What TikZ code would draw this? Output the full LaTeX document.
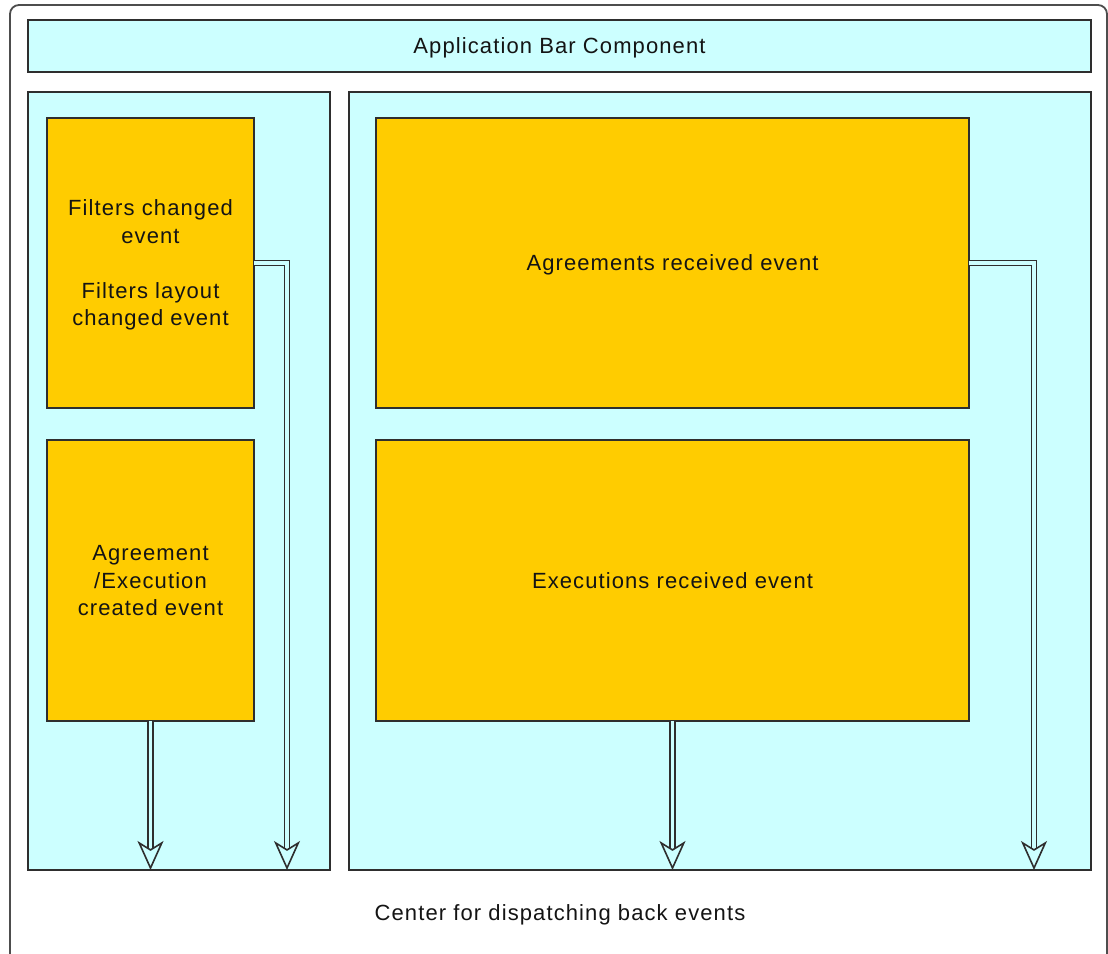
\documentclass[tikz,border=0pt]{standalone}
\usepackage{fontspec}
\setmainfont{Liberation Sans}[LetterSpace=5]
\usetikzlibrary{arrows.meta}
\definecolor{cyanbg}{HTML}{CCFFFF}
\definecolor{evorange}{HTML}{FFCC00}
\definecolor{linec}{HTML}{2E2E2E}
\definecolor{txt}{HTML}{141414}
\tikzset{
  box/.style={draw=linec, line width=1.5pt, inner sep=0pt, outer sep=0pt, anchor=north west,
    align=center, text=txt, text depth=0pt, font=\fontsize{22}{27.5}\selectfont},
  panel/.style={box, fill=cyanbg},
  evbox/.style={box, fill=evorange},
  shaft/.style={draw=linec, line width=1.7pt, double=cyanbg, double distance=3.2pt, shorten >=12pt},
  head/.style={cyanbg, line width=1.6pt,
    -{Stealth[linec, fill=cyanbg, length=29pt, width=26pt, inset=8pt]}},
}
\begin{document}
\begin{tikzpicture}[x=1pt, y=-1pt]
\useasboundingbox (0,0) rectangle (1108,953);
\begin{scope}
\clip (0,0) rectangle (1108,953);
\draw[draw=linec!85, line width=1.8pt, rounded corners=9pt, fill=white] (10,5) rectangle (1107,1010);
\end{scope}
% application bar
\node[panel, minimum width=1063pt, minimum height=52pt] (app) at (28,20) {Application Bar Component};
% panels
\node[panel, minimum width=302pt, minimum height=778pt] (lp) at (28,92) {};
\node[panel, minimum width=742pt, minimum height=778pt] (rp) at (349,92) {};
% event boxes
\node[evbox, minimum width=207pt, minimum height=290pt] (fc) at (47,118)
  {Filters changed\\event\\[27.5pt]Filters layout\\changed event};
\node[evbox, minimum width=207pt, minimum height=281pt] (ae) at (47,440)
  {Agreement\\/Execution\\created event};
\node[evbox, minimum width=593pt, minimum height=290pt] (ar) at (376,118)
  {Agreements received event};
\node[evbox, minimum width=593pt, minimum height=281pt] (er) at (376,440)
  {Executions received event};
% label of the dispatching centre
\node[text=txt, font=\fontsize{22}{27.5}\selectfont] (center) at (560,915) {Center for dispatching back events};
% arrow end points
\coordinate (e1) at (ae.south |- lp.south);
\coordinate (e2) at (287,870);
\coordinate (e3) at (er.south |- rp.south);
\coordinate (e4) at (1034,870);
% shafts
\draw[shaft] (ae.south) -- (e1);
\draw[shaft] (fc.east) -| (e2);
\draw[shaft] (er.south) -- (e3);
\draw[shaft] (ar.east) -| (e4);
% heads
\draw[head] ([yshift=32pt]e1) -- (e1);
\draw[head] ([yshift=32pt]e2) -- (e2);
\draw[head] ([yshift=32pt]e3) -- (e3);
\draw[head] ([yshift=32pt]e4) -- (e4);
\end{tikzpicture}
\end{document}
